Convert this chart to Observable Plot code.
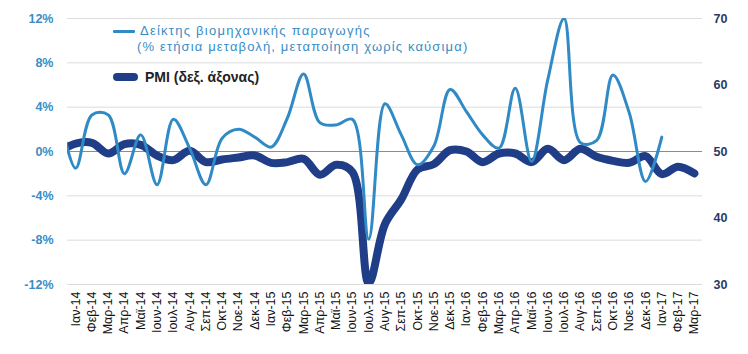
<!DOCTYPE html>
<html><head><meta charset="utf-8">
<script src="https://cdn.jsdelivr.net/npm/d3@7"></script>
<script src="https://cdn.jsdelivr.net/npm/@observablehq/plot@0.6"></script>
<style>
body{margin:0;background:#fff;}
#wrap{position:relative;width:748px;height:354px;font-family:"Liberation Sans",Arial,sans-serif;}
.leg{position:absolute;white-space:nowrap;line-height:1;}
.sym{position:absolute;border-radius:5px;}
</style></head><body><div id="wrap"></div>
<script>
// Month labels (x axis)
const xLabels = ["Ιαν-14","Φεβ-14","Μαρ-14","Απρ-14","Μαϊ-14","Ιουν-14","Ιουλ-14","Αυγ-14","Σεπ-14","Οκτ-14","Νοε-14","Δεκ-14",
"Ιαν-15","Φεβ-15","Μαρ-15","Απρ-15","Μαϊ-15","Ιουν-15","Ιουλ-15","Αυγ-15","Σεπ-15","Οκτ-15","Νοε-15","Δεκ-15",
"Ιαν-16","Φεβ-16","Μαρ-16","Απρ-16","Μαϊ-16","Ιουν-16","Ιουλ-16","Αυγ-16","Σεπ-16","Οκτ-16","Νοε-16","Δεκ-16",
"Ιαν-17","Φεβ-17","Μαρ-17"];
// Series start one month before the first label (Δεκ-13), clipped at the plot edge
const seriesStart = -1;
// Industrial production, % y/y (Δεκ-13 .. Ιαν-17)
const ipValues = [3.5,
 -1.5, 3.3, 3.3, -2.0, 1.5, -3.0, 2.9, 0.3, -3.0, 1.2, 2.0, 1.3,
 0.4, 3.0, 7.0, 2.6, 2.4, 2.9, -7.9, 4.3, 1.5, -1.2, 0.5, 5.6,
 3.6, 1.5, 0.3, 5.7, -0.9, 6.5, 12.0, 0.8, 1.0, 6.9, 3.5, -2.7,
 1.3];
// PMI, right axis (Δεκ-13 .. Μαρ-17)
const pmiValues = [50.0,
 51.2, 51.3, 49.7, 51.1, 51.0, 49.4, 48.7, 50.1, 48.4, 48.8, 49.1, 49.4,
 48.3, 48.4, 48.9, 46.5, 48.0, 46.9, 30.2, 39.1, 42.8, 47.3, 48.1, 50.2,
 50.0, 48.4, 49.7, 49.7, 48.4, 50.4, 48.7, 50.4, 49.2, 48.6, 48.3, 49.3,
 46.6, 47.7, 46.7];
const leftTicks = [-12, -8, -4, 0, 4, 8, 12];
const rightTicks = [30, 40, 50, 60, 70];
// right axis: 50 aligns with 0%, 70 with 12%
const pmiToLeft = p => (p - 50) * 0.6;

const ip = ipValues.map((v, i) => ({m: i + seriesStart, v}));
const pmi = pmiValues.map((v, i) => ({m: i + seriesStart, v: pmiToLeft(v)}));

const chart = Plot.plot({
  width: 748, height: 354,
  marginLeft: 67, marginRight: 46, marginTop: 18, marginBottom: 70,
  x: {domain: [-0.5, xLabels.length - 0.5]},
  y: {domain: [-12, 12]},
  style: {fontFamily: "'Liberation Sans', Arial, sans-serif", background: "white"},
  marks: [
    Plot.ruleY(leftTicks.filter(d => d !== 0), {stroke: "#dcdcdc", strokeWidth: 1}),
    Plot.ruleY([0], {stroke: "#8c8c8c", strokeWidth: 1}),
    Plot.line(pmi, {x: "m", y: "v", stroke: "#1f3e87", strokeWidth: 8, curve: "catmull-rom", clip: true}),
    Plot.line(ip, {x: "m", y: "v", stroke: "#2f8ac6", strokeWidth: 3, curve: "catmull-rom", clip: true}),
    Plot.axisY({ticks: leftTicks, tickFormat: d => d + "%", tickSize: 0, tickPadding: 14, label: null,
      fill: "#3a8dc5", fontSize: 12.5, fontWeight: "bold"}),
    Plot.axisY({anchor: "right", ticks: rightTicks.map(pmiToLeft), tickFormat: (d, i) => String(rightTicks[i]),
      tickSize: 0, tickPadding: 11, label: null, fill: "#2b3a63", fontSize: 12.5, fontWeight: "bold"}),
    Plot.axisX({ticks: d3.range(xLabels.length), tickFormat: i => xLabels[i], tickRotate: -90, tickSize: 0,
      tickPadding: 7, label: null, fill: "#111", fontSize: 12.5})
  ]
});
const wrap = document.getElementById("wrap");
wrap.appendChild(chart);

function add(html, css, cls) {
  const d = document.createElement("div");
  d.className = cls; d.innerHTML = html; Object.assign(d.style, css); wrap.appendChild(d);
}
add("", {left: "113px", top: "30px", width: "22px", height: "3px", background: "#2f8ac6", borderRadius: "1px"}, "sym");
add("Δείκτης βιομηχανικής παραγωγής", {left: "140px", top: "24px", fontSize: "13px", color: "#3a8dc5", letterSpacing: "1.25px"}, "leg");
add("(% ετήσια μεταβολή, μεταποίηση χωρίς καύσιμα)", {left: "137px", top: "40px", fontSize: "13px", color: "#3a8dc5", letterSpacing: "1.15px"}, "leg");
add("", {left: "113px", top: "73px", width: "25px", height: "8px", background: "#1f3e87"}, "sym");
add("PMI (δεξ. άξονας)", {left: "145px", top: "70px", fontSize: "14px", color: "#222", fontWeight: "bold"}, "leg");
</script></body></html>
